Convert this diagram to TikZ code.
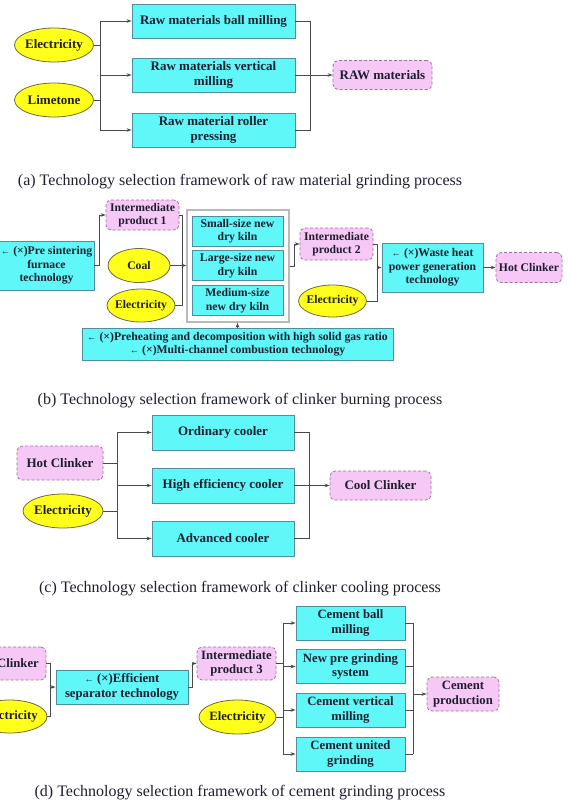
\documentclass[tikz,border=0pt]{standalone}
\usepackage{fontspec}
\setmainfont{Liberation Serif}
\usetikzlibrary{shapes.geometric, arrows.meta}
\definecolor{boxcyan}{HTML}{5FF7F7}
\definecolor{boxedge}{HTML}{4F8E9E}
\definecolor{prodpink}{HTML}{F6C8F6}
\definecolor{prodedge}{HTML}{9C729C}
\definecolor{fuelyellow}{HTML}{FFFF1A}
\definecolor{fueledge}{HTML}{6E6A3C}
\definecolor{wiregray}{HTML}{4A4A4A}
\definecolor{inkdark}{HTML}{1E1E30}
\tikzset{
  techbox/.style={draw=boxedge, fill=boxcyan, line width=0.9pt, inner sep=0pt, align=center, text=inkdark},
  prodbox/.style={draw=prodedge, fill=prodpink, dash pattern=on 3pt off 2pt, rounded corners=5pt, line width=0.8pt, inner sep=0pt, align=center, text=inkdark},
  fuelnode/.style={ellipse, draw=fueledge, fill=fuelyellow, line width=0.8pt, inner xsep=-2pt, inner ysep=0pt, text=inkdark},
  wire/.style={draw=wiregray, line width=0.8pt}
}
\tikzset{
  bigtext/.style={font=\bfseries\fontsize{13}{15}\selectfont},
  smalltext/.style={font=\bfseries\fontsize{11.7}{13.5}\selectfont},
  midtext/.style={font=\bfseries\fontsize{12.7}{14.6}\selectfont},
  captiontext/.style={font=\fontsize{16}{19}\selectfont, text=inkdark}
}
\newcommand{\larr}{{\mdseries\fontsize{9.5}{9.5}\selectfont ←}}

\begin{document}
\begin{tikzpicture}[x=1pt, y=-1pt, >={Stealth[length=5pt,width=3.6pt]}]
  \useasboundingbox (0,0) rectangle (569,805);
  \clip (0,0) rectangle (569,805);
  % (a) raw material grinding
  \node[techbox, bigtext, minimum width=163, minimum height=34] (rb) at (213.5,21) {Raw materials ball milling};
  \node[techbox, bigtext, minimum width=163, minimum height=34] (rv) at (213.5,75) {Raw materials vertical\\milling};
  \node[techbox, bigtext, minimum width=163, minimum height=34] (rr) at (213.5,130) {Raw material roller\\pressing};
  \node[fuelnode, bigtext, minimum width=79, minimum height=34] (ae) at (54,45) {Electricity};
  \node[fuelnode, bigtext, minimum width=79, minimum height=34] (al) at (54,100) {Limetone};
  \node[prodbox, bigtext, minimum width=99, minimum height=29] (araw) at (382.5,75) {RAW materials};
  \coordinate (abus) at (100,0);
  \coordinate (arail) at (310,0);
  \draw[wire] (ae.east) -- (ae.east -| abus);
  \draw[wire] (al.east) -- (al.east -| abus);
  \draw[wire] (rb.west -| abus) -- (rr.west -| abus);
  \foreach \b in {rb,rv,rr} \draw[wire,->] (\b.west -| abus) -- (\b.west);
  \draw[wire] (rb.east) -| (rr.east -| arail) -- (rr.east);
  \draw[wire,->] (rv.east) -- (araw.west);
  \node[captiontext] (capa) at (240,181.5) {(a) Technology selection framework of raw material grinding process};

  % (b) clinker burning
  \node[techbox, smalltext, minimum width=95, minimum height=49] (bps) at (46.5,265.5) {\larr\ (×)Pre sintering\\furnace\\technology};
  \node[prodbox, smalltext, minimum width=73, minimum height=30] (ip1) at (142.5,215) {Intermediate\\product 1};
  \node[fuelnode, smalltext, minimum width=62, minimum height=34] (coal) at (139,265.5) {Coal};
  \node[fuelnode, smalltext, minimum width=68, minimum height=33] (be1) at (141,305.5) {Electricity};
  \node[draw=gray!55, line width=1.4pt, fill=white, minimum width=102, minimum height=112] (kiln) at (238,266) {};
  \node[techbox, smalltext, minimum width=91, minimum height=30] (ks) at (237.5,231) {Small-size new\\dry kiln};
  \node[techbox, smalltext, minimum width=91, minimum height=30] (kl) at (237.5,265.5) {Large-size new\\dry kiln};
  \node[techbox, smalltext, minimum width=91, minimum height=30] (km) at (237.5,300.5) {Medium-size\\new dry kiln};
  \node[techbox, smalltext, minimum width=311, minimum height=32] (bt) at (237.5,344) {\larr\ (×)Preheating and decomposition with high solid gas ratio\\\larr\ (×)Multi-channel combustion technology};
  \node[prodbox, smalltext, minimum width=73, minimum height=32] (ip2) at (336.5,244) {Intermediate\\product 2};
  \node[fuelnode, smalltext, minimum width=67, minimum height=32] (be2) at (332.5,301) {Electricity};
  \node[techbox, smalltext, minimum width=101, minimum height=49] (wh) at (432.5,267.5) {\larr\ (×)Waste heat\\power generation\\technology};
  \node[prodbox, smalltext, minimum width=66, minimum height=30] (bhc) at (529,267.5) {Hot Clinker};
  \coordinate (bbus) at (182,0);
  \coordinate (cbus) at (377,0);
  \draw[wire,->] (bps.east) -- ++(5,0) |- (ip1.west);
  \draw[wire] (ip1.east) -| (bbus |- be1.east) -- (be1.east);
  \draw[wire,->] (coal.east) -- (coal.east -| kiln.west);
  \draw[wire,->] (bt.north) -- (bt.north |- kiln.south);
  \draw[wire,->] (kiln.east) -- ++(5,0) |- (ip2.west);
  \draw[wire] (ip2.east) -| (cbus |- be2.east) -- (be2.east);
  \draw[wire,->] (cbus |- wh.west) -- (wh.west);
  \draw[wire,->] (wh.east) -- (bhc.west);
  \node[captiontext] (capb) at (240,401) {(b) Technology selection framework of clinker burning process};

  % (c) clinker cooling
  \node[techbox, bigtext, minimum width=142, minimum height=35] (co) at (223,432.5) {Ordinary cooler};
  \node[techbox, bigtext, minimum width=142, minimum height=35] (ch) at (223,485.5) {High efficiency cooler};
  \node[techbox, bigtext, minimum width=142, minimum height=35] (ca) at (223,538.5) {Advanced cooler};
  \node[prodbox, bigtext, minimum width=86, minimum height=34] (chc) at (60,463) {Hot Clinker};
  \node[fuelnode, bigtext, minimum width=80, minimum height=34] (ce) at (63,511) {Electricity};
  \node[prodbox, bigtext, minimum width=101, minimum height=29] (ccc) at (380.5,485.5) {Cool Clinker};
  \coordinate (dbus) at (117,0);
  \coordinate (drail) at (309,0);
  \draw[wire] (chc.east) -- (chc.east -| dbus);
  \draw[wire] (ce.east) -- (ce.east -| dbus);
  \draw[wire] (co.west -| dbus) -- (ca.west -| dbus);
  \foreach \b in {co,ch,ca} \draw[wire,->] (\b.west -| dbus) -- (\b.west);
  \draw[wire] (co.east) -| (ca.east -| drail) -- (ca.east);
  \draw[wire,->] (ch.east) -- (ccc.west);
  \node[captiontext] (capc) at (240,589) {(c) Technology selection framework of clinker cooling process};

  % (d) cement grinding
  \node[prodbox, midtext, minimum width=56, minimum height=33] (dcl) at (18,663.5) {Clinker};
  \node[fuelnode, midtext, minimum width=75, minimum height=33] (de1) at (9.5,716.5) {Electricity};
  \node[techbox, midtext, minimum width=132, minimum height=34] (sep) at (122,687) {\larr\ (×)Efficient\\separator technology};
  \node[prodbox, midtext, minimum width=79, minimum height=33] (ip3) at (236.5,663.5) {Intermediate\\product 3};
  \node[fuelnode, midtext, minimum width=77, minimum height=34] (de2) at (237.5,717) {Electricity};
  \node[techbox, midtext, minimum width=109, minimum height=34] (cb1) at (350.5,623) {Cement ball\\milling};
  \node[techbox, midtext, minimum width=109, minimum height=34] (cb2) at (350.5,666.5) {New pre grinding\\system};
  \node[techbox, midtext, minimum width=109, minimum height=34] (cb3) at (350.5,710) {Cement vertical\\milling};
  \node[techbox, midtext, minimum width=109, minimum height=34] (cb4) at (350.5,754) {Cement united\\grinding};
  \node[prodbox, midtext, minimum width=72, minimum height=34] (cp) at (463,694) {Cement\\production};
  \coordinate (ebus) at (50,0);
  \coordinate (fbus) at (283,0);
  \coordinate (grail) at (413,0);
  \draw[wire] (dcl.east) -| (ebus |- de1.east) -- (de1.east);
  \draw[wire,->] (ebus |- sep.west) -- (sep.west);
  \draw[wire,->] (sep.east) -- ++(4,0) |- (ip3.west);
  \draw[wire] (ip3.east) -- (ip3.east -| fbus);
  \draw[wire] (de2.east) -- (de2.east -| fbus);
  \draw[wire] (cb1.west -| fbus) -- (cb4.west -| fbus);
  \foreach \b in {cb1,cb2,cb3,cb4} \draw[wire,->] (\b.west -| fbus) -- (\b.west);
  \foreach \b in {cb1,cb2,cb3,cb4} \draw[wire] (\b.east) -- (\b.east -| grail);
  \draw[wire] (cb1.east -| grail) -- (cb4.east -| grail);
  \draw[wire,->] (grail |- cp.west) -- (cp.west);
  \node[captiontext] (capd) at (240,793) {(d) Technology selection framework of cement grinding process};
\end{tikzpicture}
\end{document}
